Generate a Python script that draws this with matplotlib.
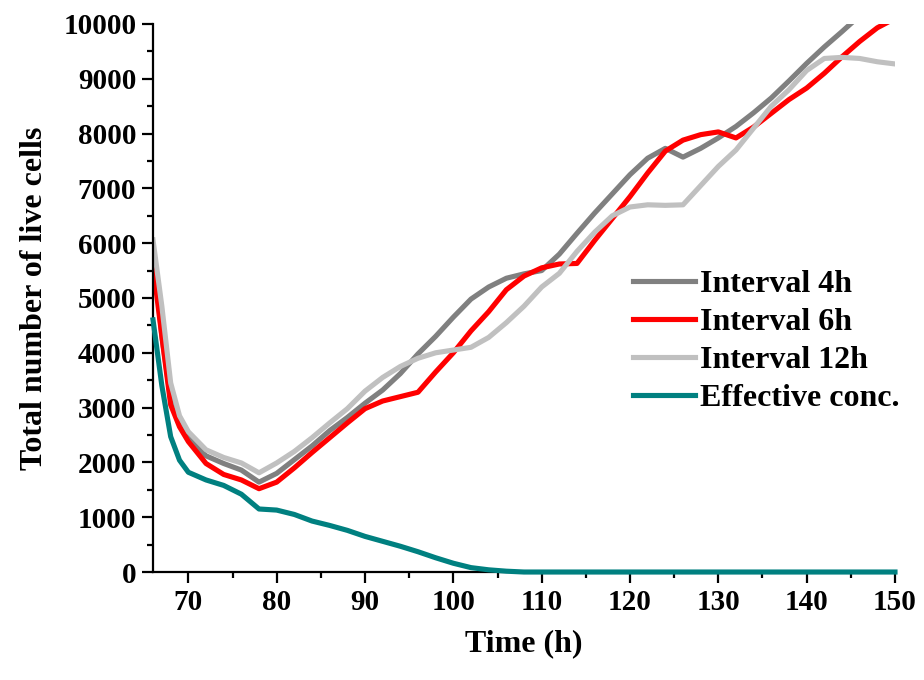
import matplotlib
matplotlib.use("Agg")
import matplotlib.pyplot as plt
from matplotlib.ticker import MultipleLocator

plt.rcParams['font.family'] = ['Liberation Serif', 'DejaVu Serif']
plt.rcParams['font.weight'] = 'bold'

# time points (h)
time = [66, 67, 68, 69, 70, 72, 74, 76, 78, 80, 82, 84, 86, 88, 90, 92, 94, 96, 98,
        100, 102, 104, 106, 108, 110, 112, 114, 116, 118, 120, 122, 124, 126, 128,
        130, 132, 134, 136, 138, 140, 142, 144, 146, 148, 150]

interval_4h = [5900, 4300, 3150, 2700, 2450, 2120, 1980, 1860, 1640, 1800, 2050, 2300,
               2580, 2820, 3080, 3320, 3620, 3980, 4300, 4650, 4980, 5200, 5360, 5440,
               5500, 5800, 6180, 6550, 6900, 7250, 7550, 7730, 7570, 7730, 7920, 8130,
               8380, 8650, 8960, 9280, 9580, 9860, 10150, 10450, 10750]

interval_6h = [5600, 4300, 3050, 2650, 2380, 1980, 1780, 1680, 1520, 1640, 1900, 2180,
               2450, 2720, 2980, 3120, 3200, 3280, 3650, 4000, 4400, 4750, 5150, 5400,
               5550, 5620, 5630, 6050, 6450, 6850, 7280, 7680, 7880, 7980, 8030, 7920,
               8120, 8370, 8620, 8830, 9100, 9400, 9680, 9930, 10100]

interval_12h = [6060, 4850, 3450, 2850, 2560, 2230, 2090, 1990, 1810, 1990, 2200, 2450,
                2720, 2980, 3300, 3550, 3750, 3900, 4000, 4050, 4100, 4280, 4550, 4850,
                5200, 5450, 5850, 6200, 6500, 6660, 6700, 6690, 6700, 7050, 7400, 7700,
                8100, 8500, 8800, 9150, 9370, 9390, 9370, 9310, 9270]

effective_conc = [4600, 3400, 2470, 2040, 1820, 1680, 1580, 1420, 1150, 1130, 1050, 930,
                  850, 760, 650, 560, 470, 370, 260, 160, 80, 40, 15, 0, 0, 0, 0, 0, 0,
                  0, 0, 0, 0, 0, 0, 0, 0, 0, 0, 0, 0, 0, 0, 0, 0]

fig = plt.figure(figsize=(9.24, 6.8), dpi=100)
ax = fig.add_axes([0.1656, 0.1588, 0.803, 0.806])

lw = 3.7
ax.plot(time, interval_4h, color='#808080', lw=lw, label='Interval 4h')
ax.plot(time, interval_6h, color='#ff0000', lw=lw, label='Interval 6h')
ax.plot(time, interval_12h, color='#c0c0c0', lw=lw, label='Interval 12h')
ax.plot(time, effective_conc, color='#008080', lw=lw, label='Effective conc.',
        clip_on=False, zorder=5)

ax.set_xlim(66, 150)
ax.set_ylim(0, 10000)
ax.xaxis.set_major_locator(MultipleLocator(10))
ax.xaxis.set_minor_locator(MultipleLocator(5))
ax.yaxis.set_major_locator(MultipleLocator(1000))
ax.yaxis.set_minor_locator(MultipleLocator(500))

for s in ['top', 'right']:
    ax.spines[s].set_visible(False)
for s in ['left', 'bottom']:
    ax.spines[s].set_linewidth(1.6)

ax.tick_params(which='major', direction='out', length=8, width=1.6, labelsize=21, pad=4)
ax.tick_params(which='minor', direction='out', length=4.5, width=1.6)

ax.set_xlabel('Time (h)', fontsize=23, fontweight='bold', labelpad=10)
ax.set_ylabel('Total number of live cells', fontsize=23, fontweight='bold', labelpad=10)

ax.legend(loc='upper left', bbox_to_anchor=(0.685, 0.603), bbox_transform=fig.transFigure,
          frameon=False, fontsize=23, handlelength=1.95, handletextpad=0.15,
          labelspacing=0.27, borderpad=0, borderaxespad=0)

fig.savefig('out.png', dpi=100)
